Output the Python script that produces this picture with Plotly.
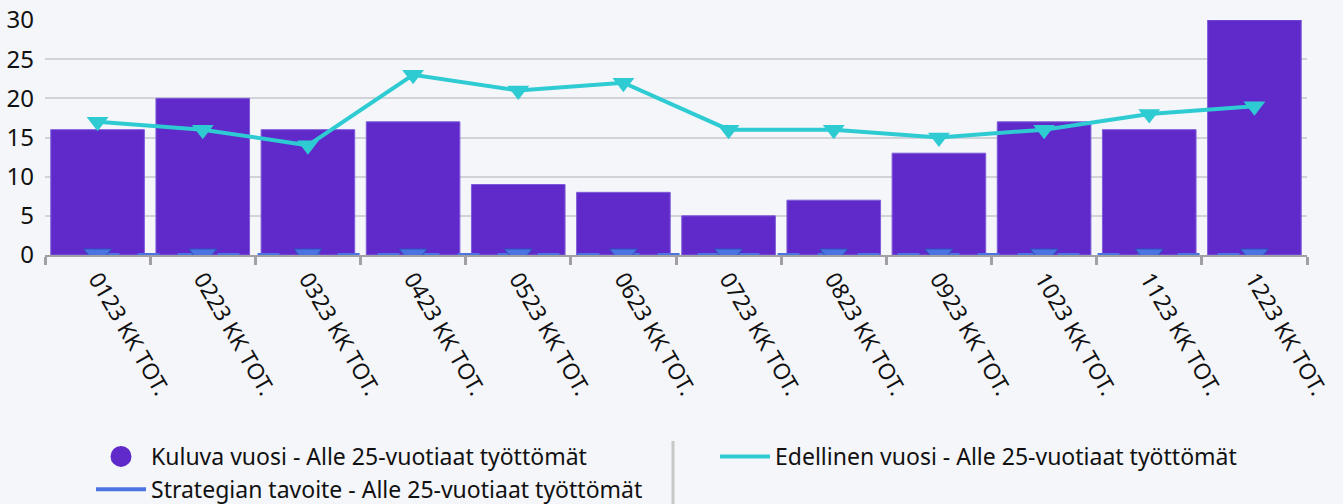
import plotly.graph_objects as go

categories = ["0123 KK TOT.", "0223 KK TOT.", "0323 KK TOT.", "0423 KK TOT.",
              "0523 KK TOT.", "0623 KK TOT.", "0723 KK TOT.", "0823 KK TOT.",
              "0923 KK TOT.", "1023 KK TOT.", "1123 KK TOT.", "1223 KK TOT."]
kuluva = [16, 20, 16, 17, 9, 8, 5, 7, 13, 17, 16, 30]
edellinen = [17, 16, 14, 23, 21, 22, 16, 16, 15, 16, 18, 19]
tavoite = [0, 0, 0, 0, 0, 0, 0, 0, 0, 0, 0, 0]
y_ticks = [0, 5, 10, 15, 20, 25, 30]

name_k = "Kuluva vuosi - Alle 25-vuotiaat työttömät"
name_s = "Strategian tavoite - Alle 25-vuotiaat työttömät"
name_e = "Edellinen vuosi - Alle 25-vuotiaat työttömät"

PURPLE = "#5F2AC9"
CYAN = "#2ECBD3"
BLUE = "#4B73E2"
BG = "#F5F6FA"
FONT = "Noto Sans, Open Sans, sans-serif"

# plot area in pixels (used only for placing legend/separator in paper coords)
PL, PR, PT, PB = 45, 1307, 20, 255
def px_x(px):
    return (px - PL) / (PR - PL)
def px_y(py):
    return (PB - py) / (PB - PT)

fig = go.Figure()
fig.add_trace(go.Bar(x=categories, y=kuluva, name=name_k, showlegend=False,
                     marker=dict(color=PURPLE, line=dict(color="#7E5BDA", width=1))))
fig.add_trace(go.Scatter(x=categories, y=tavoite, name=name_s, mode="lines+markers", showlegend=False,
                         line=dict(color=BLUE, width=4, dash="22px,18px"),
                         marker=dict(symbol="triangle-down", size=24, color=BLUE,
                                     line=dict(color="#2F4FB8", width=1))))
fig.add_trace(go.Scatter(x=categories, y=edellinen, name=name_e, mode="lines+markers", showlegend=False,
                         line=dict(color=CYAN, width=4),
                         marker=dict(symbol="triangle-down", size=19, color=CYAN)))

# legend entries
fig.add_trace(go.Scatter(x=[None], y=[None], name=name_k, mode="markers", legend="legend",
                         legendgroup="k",
                         marker=dict(symbol="circle", size=16, color=PURPLE,
                                     line=dict(color=PURPLE, width=5))))
fig.add_trace(go.Scatter(x=[None], y=[None], name=name_s, mode="lines", legend="legend",
                         legendgroup="s",
                         line=dict(color=BLUE, width=4)))
fig.add_trace(go.Scatter(x=[None], y=[None], name=name_e, mode="lines", legend="legend2",
                         legendgroup="e",
                         line=dict(color=CYAN, width=4)))

fig.update_layout(
    width=1343, height=504,
    margin=dict(l=PL, r=1343 - PR, t=PT, b=504 - PB, autoexpand=False),
    paper_bgcolor=BG, plot_bgcolor=BG,
    font=dict(family=FONT, size=20, color="#111111"),
    bargap=0.11,
    legend=dict(orientation="v", x=px_x(91), xanchor="left", y=px_y(435), yanchor="top",
                font=dict(size=23, color="#111111"), itemwidth=50,
                tracegroupgap=0, bgcolor="rgba(0,0,0,0)"),
    legend2=dict(orientation="v", x=px_x(715), xanchor="left", y=px_y(435), yanchor="top",
                 font=dict(size=23, color="#111111"), itemwidth=50,
                 bgcolor="rgba(0,0,0,0)"),
    xaxis=dict(type="category", range=[-0.5, len(categories) - 0.5],
               tickangle=60, tickson="boundaries", ticks="outside",
               ticklen=8, tickwidth=3, tickcolor="#A0A0A5", automargin=False,
               showline=True, linecolor="#A0A0A5", linewidth=2,
               showgrid=False, tickfont=dict(size=22.5, color="#111111")),
    yaxis=dict(range=[0, 30], tickvals=y_ticks, showgrid=True, gridcolor="#D2D3D8",
               gridwidth=2, zeroline=False, showline=False, ticks="", automargin=False,
               ticklabelstandoff=10, tickfont=dict(size=24, color="#111111")),
    shapes=[dict(type="line", xref="paper", yref="paper",
                 x0=px_x(673), x1=px_x(673), y0=px_y(441), y1=px_y(504),
                 line=dict(color="#C8C8C8", width=3))],
)

fig.write_html("out.html",
               config={"displayModeBar": False},
               post_script="document.body.style.margin='0';"
                           "document.body.style.background='#F5F6FA';"
                           "document.body.style.overflow='hidden';")
